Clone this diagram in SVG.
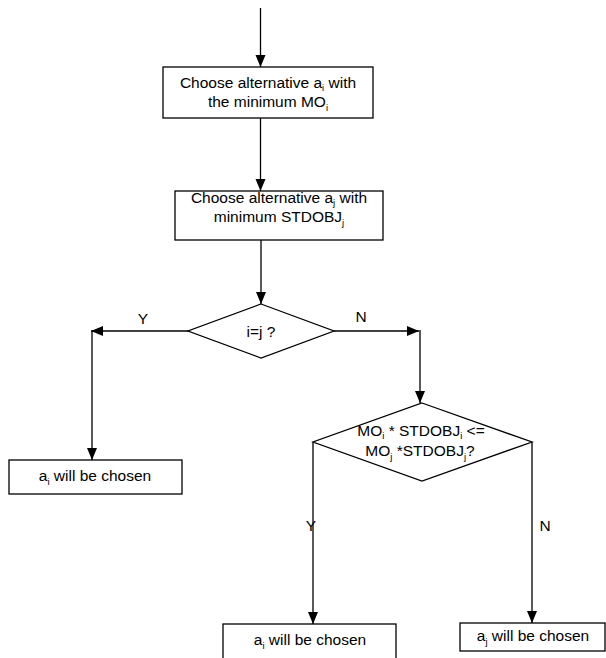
<svg xmlns="http://www.w3.org/2000/svg" width="606" height="658" viewBox="0 0 606 658">
<defs>
<marker id="ah" markerUnits="userSpaceOnUse" markerWidth="12" markerHeight="12" refX="12" refY="5" orient="auto">
<path d="M0,0 L12,5 L0,10 Z" fill="#000"/>
</marker>
<style>
.n{fill:#fff;stroke:#000;stroke-width:1.3}
.c{fill:none;stroke:#000;stroke-width:1.3;marker-end:url(#ah)}
text{font-family:"Liberation Sans",Arial,sans-serif;font-size:15.5px;fill:#000}
.s{font-size:9.5px}
</style>
</defs>
<rect width="606" height="658" fill="#fff"/>
<g id="connectors">
<line class="c" x1="260.5" y1="8" x2="260.5" y2="67"/>
<line class="c" x1="260.5" y1="118" x2="260.5" y2="191"/>
<line class="c" x1="261" y1="240" x2="261" y2="304"/>
<line class="c" x1="188" y1="331" x2="91" y2="331"/>
<line class="c" x1="92" y1="331" x2="92" y2="460"/>
<line class="c" x1="334" y1="331" x2="419" y2="331"/>
<line class="c" x1="420" y1="330" x2="420" y2="403"/>
<line class="c" x1="313" y1="442" x2="313" y2="624"/>
<line class="c" x1="532" y1="442" x2="532" y2="623"/>
<text x="143" y="324" text-anchor="middle">Y</text>
<text x="361" y="322" text-anchor="middle">N</text>
<text x="311" y="531" text-anchor="middle">Y</text>
<text x="545" y="531" text-anchor="middle">N</text>
</g>
<g id="box1">
<rect class="n" x="163" y="67" width="210" height="51"/>
<text x="268" y="88" text-anchor="middle">Choose alternative a<tspan class="s" dy="3">i</tspan><tspan dy="-3"> with</tspan></text>
<text x="268" y="107" text-anchor="middle">the minimum MO<tspan class="s" dy="4">i</tspan></text>
</g>
<g id="box2">
<rect class="n" x="175" y="191" width="208" height="49"/>
<text x="279" y="203" text-anchor="middle">Choose alternative a<tspan class="s" dy="3">j</tspan><tspan dy="-3"> with</tspan></text>
<text x="279" y="222" text-anchor="middle">minimum STDOBJ<tspan class="s" dy="4">j</tspan></text>
</g>
<g id="decision1">
<polygon class="n" points="261,304 334,331 261,358 188,331"/>
<text x="261" y="337" text-anchor="middle">i=j ?</text>
</g>
<g id="decision2">
<polygon class="n" points="422,403 532,442 422,481 313,442"/>
<text x="421" y="436" text-anchor="middle">MO<tspan class="s" dy="3">i</tspan><tspan dy="-3"> * STDOBJ</tspan><tspan class="s" dy="3">i</tspan><tspan dy="-3"> &lt;=</tspan></text>
<text x="420" y="456" text-anchor="middle">MO<tspan class="s" dy="4">j</tspan><tspan dy="-4"> *STDOBJ</tspan><tspan class="s" dy="4">j</tspan><tspan dy="-4">?</tspan></text>
</g>
<g id="result_left">
<rect class="n" x="9" y="460" width="173" height="34"/>
<text x="95" y="481" text-anchor="middle">a<tspan class="s" dy="4">i</tspan><tspan dy="-4"> will be chosen</tspan></text>
</g>
<g id="result_mid">
<rect class="n" x="223" y="624" width="173" height="40"/>
<text x="310" y="645" text-anchor="middle">a<tspan class="s" dy="4">i</tspan><tspan dy="-4"> will be chosen</tspan></text>
</g>
<g id="result_right">
<rect class="n" x="460" y="623" width="145" height="28"/>
<text x="533" y="641" text-anchor="middle">a<tspan class="s" dy="4">j</tspan><tspan dy="-4"> will be chosen</tspan></text>
</g>
</svg>
